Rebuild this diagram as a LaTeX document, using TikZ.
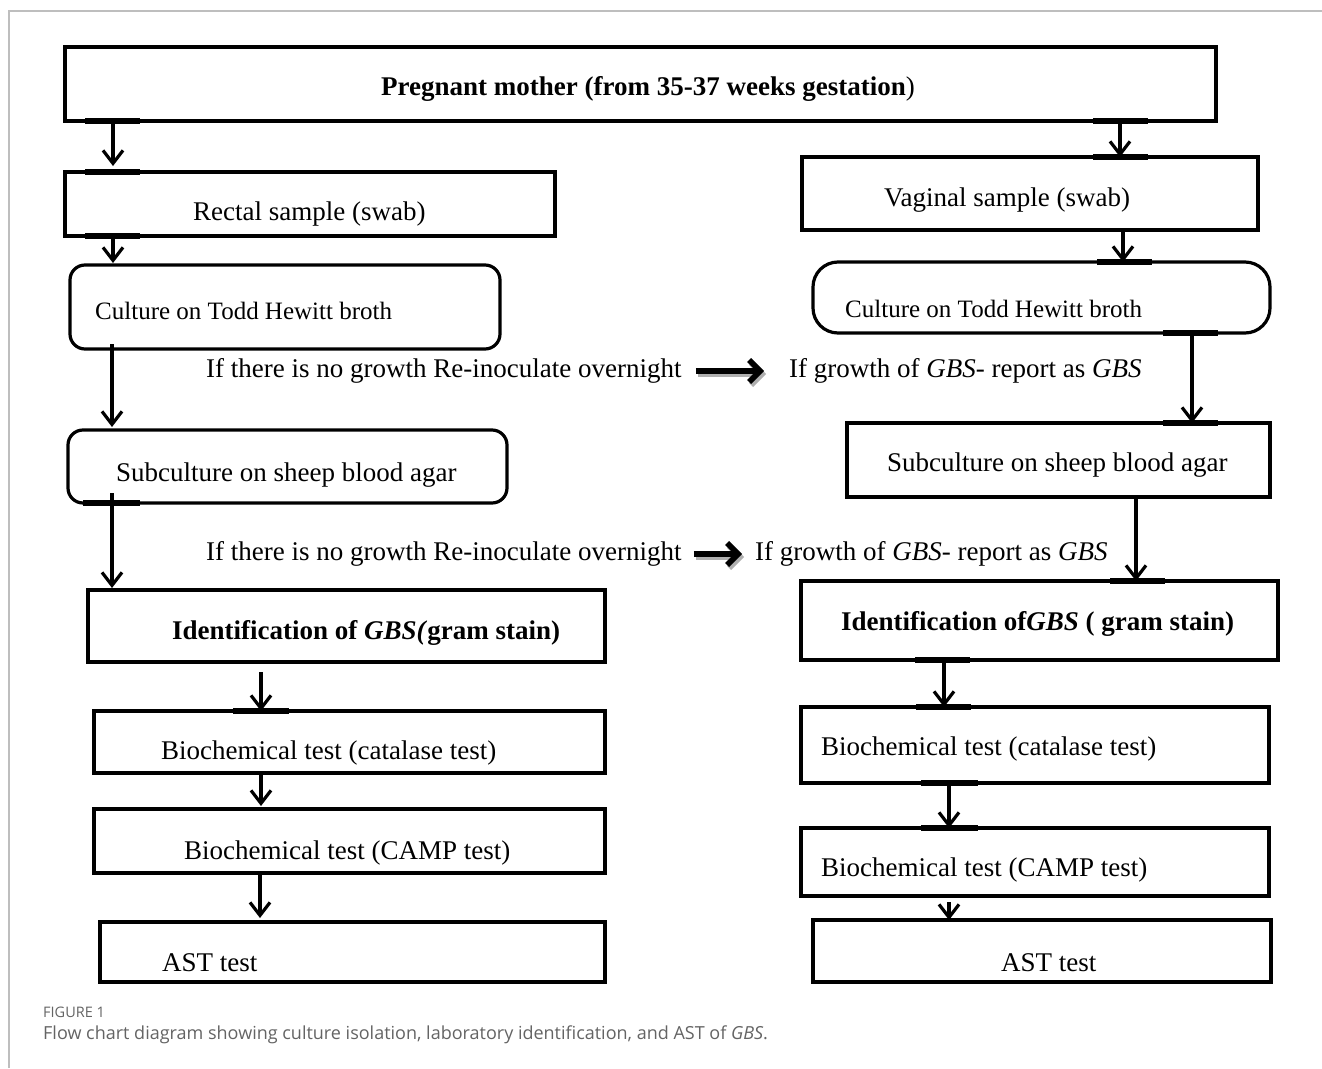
\documentclass[tikz,border=0pt]{standalone}
\usepackage{fontspec}
\setmainfont{Liberation Serif}
\newfontfamily\capfont{Open Sans}
\usetikzlibrary{arrows.meta}
\definecolor{framegray}{RGB}{190,190,190}
\definecolor{capgray}{RGB}{100,100,100}
\definecolor{shadowgray}{RGB}{175,175,175}
\begin{document}
\begin{tikzpicture}[x=1pt,y=-1pt,
  box/.style={draw=black, line width=3.2pt, inner sep=0pt, outer sep=0pt, anchor=north west},
  rbox/.style={box, rounded corners=15pt},
  txt/.style={anchor=west, inner sep=0pt, font=\fontsize{27}{32}\selectfont},
  txts/.style={anchor=west, inner sep=0pt, font=\fontsize{25}{30}\selectfont},
  arr/.style={line width=3.2pt, -{Straight Barb[length=13pt,width=20pt]}},
  harr/.style={line width=5.5pt, -{Straight Barb[length=11pt,width=22pt]}},
  hshadow/.style={harr, draw=shadowgray, transform canvas={shift={(2,3)}}},
  tabm/.style={line width=5.5pt, line cap=butt}
]
\useasboundingbox (0,0) rectangle (1322,1068);
\fill[white] (0,0) rectangle (1322,1068);
\draw[framegray, line width=1.4pt] (9,1068) -- (9,11) -- (1322,11);

% boxes
\node[box, minimum width=1151, minimum height=74] (top) at (65,47) {};
\node[box, minimum width=490, minimum height=64] (rect) at (65,172) {};
\node[box, minimum width=456, minimum height=73] (vag) at (802,157) {};
\node[rbox, minimum width=430, minimum height=84] (cultL) at (70,265) {};
\node[box, rounded corners=25pt, minimum width=457, minimum height=71] (cultR) at (813,262) {};
\node[rbox, minimum width=439, minimum height=73] (subL) at (68,430) {};
\node[box, minimum width=423, minimum height=74] (subR) at (847,423) {};
\node[box, minimum width=517, minimum height=72] (idL) at (88,590) {};
\node[box, minimum width=477, minimum height=79] (idR) at (801,581) {};
\node[box, minimum width=511, minimum height=62] (bioL) at (94,711) {};
\node[box, minimum width=468, minimum height=76] (bioR) at (801,707) {};
\node[box, minimum width=511, minimum height=64] (campL) at (94,809) {};
\node[box, minimum width=468, minimum height=68] (campR) at (801,828) {};
\node[box, minimum width=505, minimum height=60] (astL) at (100,922) {};
\node[box, minimum width=458, minimum height=62] (astR) at (813,920) {};

% texts
\node[txt] (tTop) at (381,89) {\textbf{Pregnant mother (from 35-37 weeks gestation})};
\node[txt] (tRect) at (193,214) {Rectal sample (swab)};
\node[txt] (tVag) at (884,200) {Vaginal sample (swab)};
\node[txts] (tCultL) at (95,311) {Culture on Todd Hewitt broth};
\node[txts] (tCultR) at (845,309) {Culture on Todd Hewitt broth};
\node[txt] (row1a) at (206,371) {If there is no growth Re-inoculate overnight};
\node[txt] (row1b) at (789,371) {If growth of \textit{GBS}- report as \textit{GBS}};
\node[txt] (tSubL) at (116,475) {Subculture on sheep blood agar};
\node[txt] (tSubR) at (887,465) {Subculture on sheep blood agar};
\node[txt] (row2a) at (206,554) {If there is no growth Re-inoculate overnight};
\node[txt] (row2b) at (755,554) {If growth of \textit{GBS}- report as \textit{GBS}};
\node[txt] (tIdL) at (172,633) {\textbf{Identification of \textit{GBS(}gram stain)}};
\node[txt] (tIdR) at (841,624) {\textbf{Identification of\textit{GBS} ( gram stain)}};
\node[txt] (tBioL) at (161,753) {Biochemical test (catalase test)};
\node[txt] (tBioR) at (821,749) {Biochemical test (catalase test)};
\node[txt] (tCampL) at (184,853) {Biochemical test (CAMP test)};
\node[txt] (tCampR) at (821,870) {Biochemical test (CAMP test)};
\node[txt] (tAstL) at (162,963) {AST test};
\node[txt] (tAstR) at (1001,963) {AST test};

% caption
\node[anchor=west, inner sep=0pt, text=capgray, font=\capfont\fontsize{14.5}{16}\selectfont] (fig) at (43,1012) {FIGURE 1};
\node[anchor=west, inner sep=0pt, text=capgray, font=\capfont\fontsize{18}{21}\selectfont] (cap) at (43,1035) {Flow chart diagram showing culture isolation, laboratory identification, and AST of \textit{GBS}.};

% tabs on box edges
\draw[tabm] ([xshift=20]top.south west) -- ([xshift=75]top.south west);
\draw[tabm] ([xshift=1028]top.south west) -- ([xshift=1083]top.south west);
\draw[tabm] ([xshift=20]rect.north west) -- ([xshift=75]rect.north west);
\draw[tabm] ([xshift=20]rect.south west) -- ([xshift=75]rect.south west);
\draw[tabm] ([xshift=291]vag.north west) -- ([xshift=346]vag.north west);
\draw[tabm] ([xshift=284]cultR.north west) -- ([xshift=339]cultR.north west);
\draw[tabm] ([xshift=350]cultR.south west) -- ([xshift=405]cultR.south west);
\draw[tabm] ([xshift=316]subR.north west) -- ([xshift=371]subR.north west);
\draw[tabm] ([xshift=15]subL.south west) -- ([xshift=72]subL.south west);
\draw[tabm] ([xshift=139]bioL.north west) -- ([xshift=195]bioL.north west);
\draw[tabm] ([xshift=309]idR.north west) -- ([xshift=364]idR.north west);
\draw[tabm] ([xshift=114]idR.south west) -- ([xshift=169]idR.south west);
\draw[tabm] ([xshift=115]bioR.north west) -- ([xshift=170]bioR.north west);
\draw[tabm] ([xshift=120]bioR.south west) -- ([xshift=177]bioR.south west);
\draw[tabm] ([xshift=120]campR.north west) -- ([xshift=177]campR.north west);

% vertical connectors
\draw[arr] ([xshift=48]top.south west) -- ([xshift=48,yshift=6]rect.north west);
\draw[arr] ([xshift=1055]top.south west) -- ([xshift=318]vag.north west);
\draw[arr] ([xshift=48]rect.south west) -- ([xshift=43,yshift=2]cultL.north west);
\draw[arr] ([xshift=321]vag.south west) -- ([xshift=310]cultR.north west);
\draw[arr] ([xshift=42,yshift=5]cultL.south west) -- ([xshift=44,yshift=3]subL.north west);
\draw[arr] ([xshift=379]cultR.south west) -- ([xshift=345]subR.north west);
\draw[arr] ([xshift=44,yshift=10]subL.south west) -- ([xshift=24,yshift=2]idL.north west);
\draw[arr] ([xshift=289]subR.south west) -- ([xshift=335]idR.north west);
\draw[arr] ([xshift=173,yshift=-10]idL.south west) -- ([xshift=167]bioL.north west);
\draw[arr] ([xshift=143]idR.south west) -- ([xshift=143]bioR.north west);
\draw[arr] ([xshift=167]bioL.south west) -- ([xshift=167,yshift=3]campL.north west);
\draw[arr] ([xshift=148]bioR.south west) -- ([xshift=148]campR.north west);
\draw[arr] ([xshift=166]campL.south west) -- ([xshift=160,yshift=4]astL.north west);
\draw[arr] ([xshift=148,yshift=-6]campR.south west) -- ([xshift=136]astR.north west);

% horizontal connectors
\draw[hshadow] ([xshift=14]row1a.east) -- ([xshift=-25]row1b.west);
\draw[harr] ([xshift=14]row1a.east) -- ([xshift=-25]row1b.west);
\draw[hshadow] ([xshift=12]row2a.east) -- ([xshift=-13]row2b.west);
\draw[harr] ([xshift=12]row2a.east) -- ([xshift=-13]row2b.west);
\end{tikzpicture}
\end{document}
